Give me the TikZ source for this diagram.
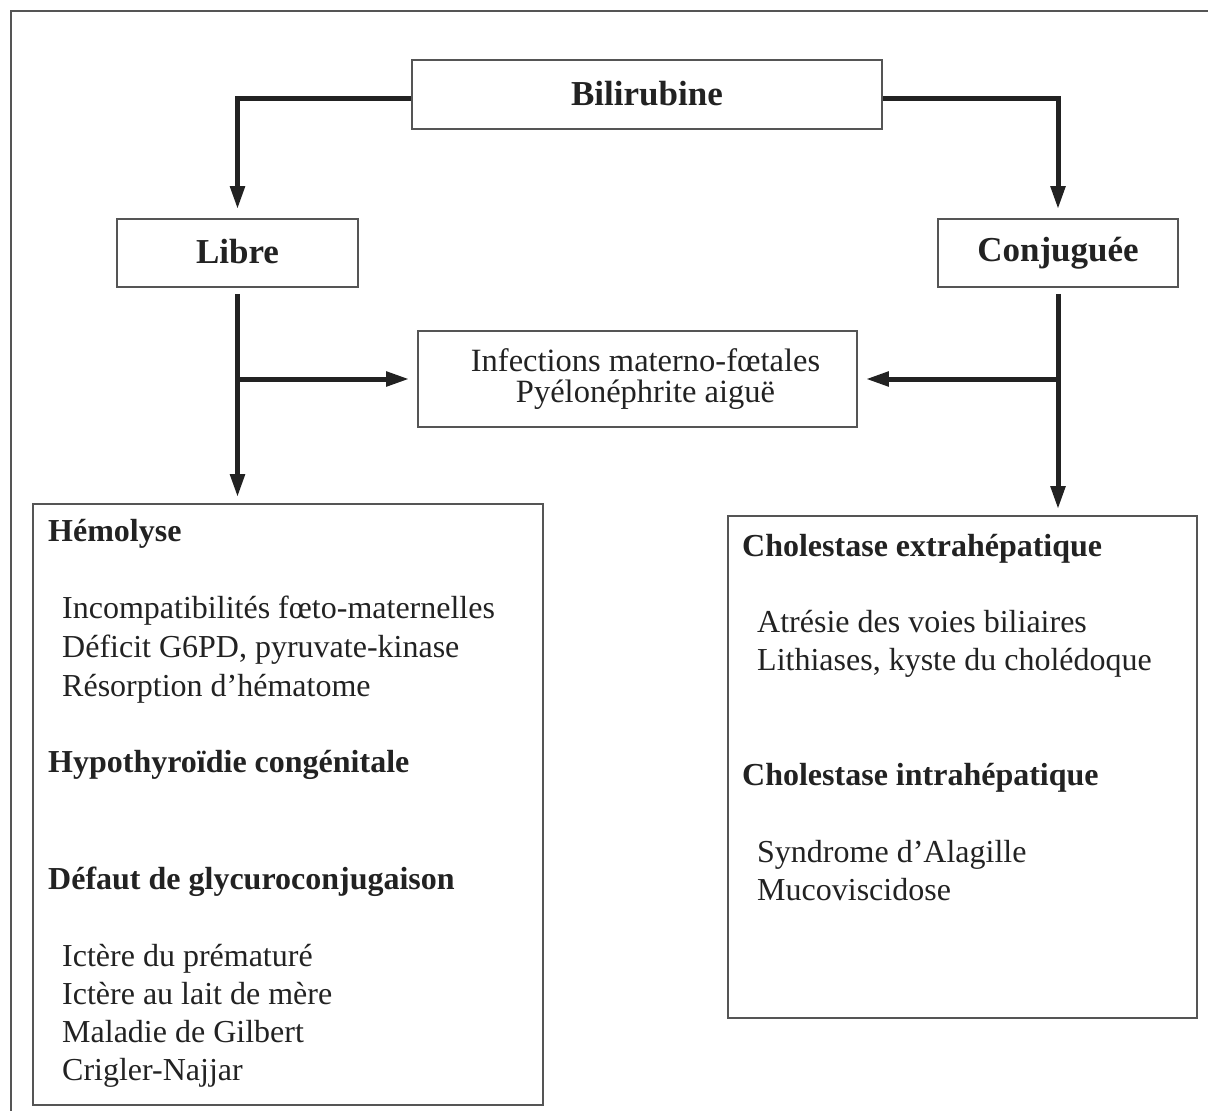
\documentclass[tikz,border=0pt]{standalone}
\usepackage{fontspec}
\setmainfont{Liberation Serif}
\usetikzlibrary{arrows.meta}
\definecolor{ink}{HTML}{222222}
\definecolor{boxline}{HTML}{555555}
\begin{document}
\begin{tikzpicture}[x=1pt,y=-1pt,
  box/.style={draw=boxline, line width=1.6pt, inner sep=0pt, text=ink},
  big/.style={font=\bfseries\fontsize{35}{40}\selectfont},
  hd/.style={anchor=base west, inner sep=0pt, text=ink, font=\bfseries\fontsize{32}{36}\selectfont},
  it/.style={anchor=base west, inner sep=0pt, text=ink, font=\fontsize{32}{36}\selectfont},
  conn/.style={draw=ink, line width=5pt, -{Triangle[length=23pt,width=14pt]}}]
\useasboundingbox (0,0) rectangle (1208,1111);
% outer frame
\draw[boxline, line width=2pt] (10.5,1120) -- (10.5,10.5) -- (1220,10.5);

% top boxes
\node[box, big, minimum width=470pt, minimum height=69pt] (bili) at (647,94.5) {\raisebox{2pt}{Bilirubine}};
\node[box, big, minimum width=241pt, minimum height=68pt] (libre) at (237.5,253) {\raisebox{3pt}{Libre}};
\node[box, big, minimum width=240pt, minimum height=68pt] (conj) at (1058,253) {\raisebox{3pt}{Conjuguée}};
\node[box, minimum width=439pt, minimum height=96pt, align=center, font=\fontsize{32.5}{31}\selectfont] (mid) at (637.5,379)
  {\hspace*{16pt}Infections materno-fœtales\\\hspace*{16pt}Pyélonéphrite aiguë};

% big boxes
\node[box, minimum width=510pt, minimum height=601pt] (lbox) at (288,804.5) {};
\node[box, minimum width=469pt, minimum height=502pt] (rbox) at (962.5,767) {};

% left box texts
\node[hd] (h1) at (48,541) {Hémolyse};
\node[it] (l1) at (62,618) {Incompatibilités fœto-maternelles};
\node[it] (l2) at (62,657) {Déficit G6PD, pyruvate-kinase};
\node[it] (l3) at (62,696) {Résorption d’hématome};
\node[hd] (h2) at (48,772) {Hypothyroïdie congénitale};
\node[hd] (h3) at (48,889) {Défaut de glycuroconjugaison};
\node[it] (l4) at (62,966) {Ictère du prématuré};
\node[it] (l5) at (62,1004) {Ictère au lait de mère};
\node[it] (l6) at (62,1042) {Maladie de Gilbert};
\node[it] (l7) at (62,1080) {Crigler-Najjar};

% right box texts
\node[hd] (h4) at (742,556) {Cholestase extrahépatique};
\node[it] (r1) at (757,632) {Atrésie des voies biliaires};
\node[it] (r2) at (757,670) {Lithiases, kyste du cholédoque};
\node[hd] (h5) at (742,785) {Cholestase intrahépatique};
\node[it] (r3) at (757,862) {Syndrome d’Alagille};
\node[it] (r4) at (757,900) {Mucoviscidose};

% connectors
\draw[conn, shorten >=9pt] (bili.west) ++(0,3.5) -| (libre.north);
\draw[conn, shorten >=9pt] (bili.east) ++(0,3.5) -| (conj.north);
\draw[conn, shorten <=6pt, shorten >=6pt] (libre.south) -- (libre.south |- lbox.north);
\draw[conn, shorten <=6pt, shorten >=6pt] (conj.south) -- (conj.south |- rbox.north);
\coordinate (lj) at (libre.south |- mid.west);
\coordinate (rj) at (conj.south |- mid.east);
\draw[conn, shorten >=8pt] (lj) -- (mid.west);
\draw[conn, shorten >=8pt] (rj) -- (mid.east);
\end{tikzpicture}
\end{document}
